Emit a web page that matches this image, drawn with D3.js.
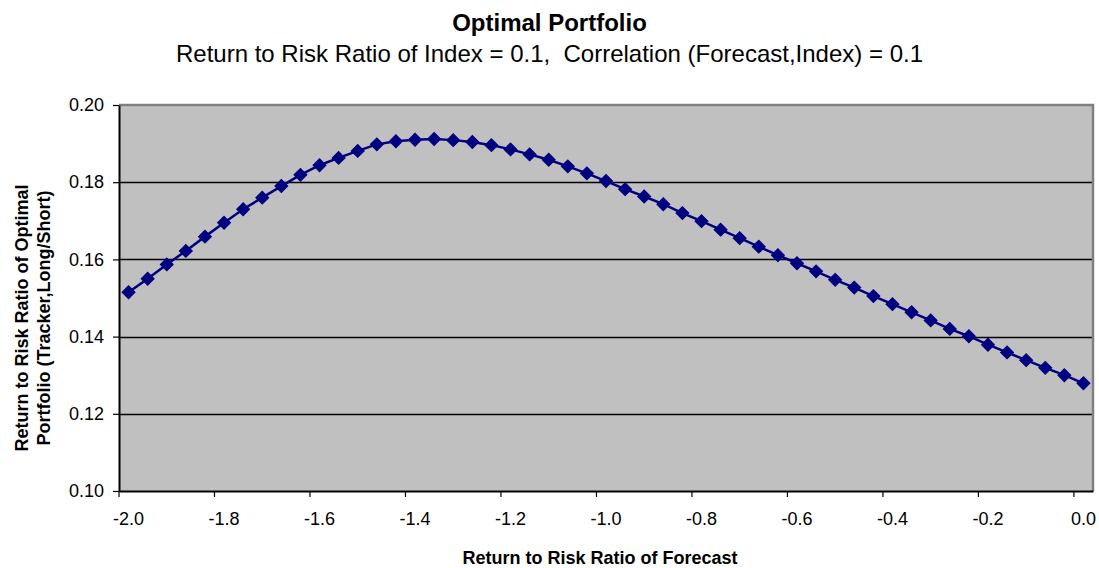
<!DOCTYPE html>
<html>
<head>
<meta charset="utf-8">
<script src="https://cdn.jsdelivr.net/npm/d3@7"></script>
<style>
  html, body { margin: 0; padding: 0; background: #fff; }
  svg { display: block; font-family: "Liberation Sans", Arial, sans-serif; }
</style>
</head>
<body>
<svg id="chart" width="1099" height="568"></svg>
<script>
// Return-to-risk ratio of the forecast (category axis)
const categories = [
  -2.00, -1.96, -1.92, -1.88, -1.84, -1.80, -1.76, -1.72, -1.68, -1.64,
  -1.60, -1.56, -1.52, -1.48, -1.44, -1.40, -1.36, -1.32, -1.28, -1.24,
  -1.20, -1.16, -1.12, -1.08, -1.04, -1.00, -0.96, -0.92, -0.88, -0.84,
  -0.80, -0.76, -0.72, -0.68, -0.64, -0.60, -0.56, -0.52, -0.48, -0.44,
  -0.40, -0.36, -0.32, -0.28, -0.24, -0.20, -0.16, -0.12, -0.08, -0.04,
   0.00
];

// Return-to-risk ratio of the optimal (tracker, long/short) portfolio
const ratios = [
  0.1515, 0.1550, 0.1587, 0.1622, 0.1659, 0.1695, 0.1730, 0.1760, 0.1790, 0.1819,
  0.1844, 0.1863, 0.1881, 0.1898, 0.1906, 0.1910, 0.1912, 0.1909, 0.1904, 0.1896,
  0.1885, 0.1872, 0.1858, 0.1841, 0.1823, 0.1803, 0.1782, 0.1763, 0.1743, 0.1720,
  0.1699, 0.1677, 0.1655, 0.1633, 0.1611, 0.1590, 0.1569, 0.1547, 0.1527, 0.1505,
  0.1484, 0.1463, 0.1442, 0.1420, 0.1401, 0.1379, 0.1359, 0.1339, 0.1319, 0.1300,
  0.1279
];

// Category-axis labels, one for every fifth category
const xTickLabels = ["-2.0", "-1.8", "-1.6", "-1.4", "-1.2", "-1.0", "-0.8", "-0.6", "-0.4", "-0.2", "0.0"];
const yTickValues = [0.10, 0.12, 0.14, 0.16, 0.18, 0.20];

const titleText = "Optimal Portfolio";
const subtitleText = "Return to Risk Ratio of Index = 0.1,  Correlation (Forecast,Index) = 0.1";
const xTitle = "Return to Risk Ratio of Forecast";
const yTitleLines = ["Return to Risk Ratio of Optimal", "Portfolio (Tracker,Long/Short)"];

const W = 1099, H = 568;
const plot = { left: 119, right: 1093, top: 105, bottom: 491 };
const navy = "#000080";

const svg = d3.select("#chart");

const x = d3.scaleBand()
  .domain(d3.range(categories.length))
  .range([plot.left, plot.right])
  .padding(0);
const y = d3.scaleLinear().domain([0.10, 0.20]).range([plot.bottom, plot.top]);
const cx = i => x(i) + x.bandwidth() / 2;

// Plot area background
svg.append("rect")
  .attr("x", plot.left).attr("y", plot.top)
  .attr("width", plot.right - plot.left).attr("height", plot.bottom - plot.top)
  .attr("fill", "#c0c0c0");

// Horizontal gridlines
svg.append("g")
  .selectAll("line")
  .data(yTickValues.filter(v => v > 0.10 && v < 0.20))
  .join("line")
  .attr("x1", plot.left).attr("x2", plot.right)
  .attr("y1", d => Math.round(y(d)) + 0.5).attr("y2", d => Math.round(y(d)) + 0.5)
  .attr("stroke", "#000").attr("stroke-width", 1.3);

// Plot-area frame (top and right edges)
svg.append("path")
  .attr("d", `M${plot.left},${plot.top} H${plot.right} V${plot.bottom}`)
  .attr("fill", "none").attr("stroke", "#808080").attr("stroke-width", 2.5);

// Y axis
const yAxis = svg.append("g")
  .attr("transform", `translate(${plot.left},0)`)
  .call(d3.axisLeft(y).tickValues(yTickValues).tickFormat(d3.format(".2f"))
    .tickSizeInner(6).tickSizeOuter(0).tickPadding(9));
yAxis.select(".domain").attr("stroke", "#000").attr("stroke-width", 2);
yAxis.selectAll(".tick line").attr("stroke", "#000").attr("stroke-width", 1.2);
yAxis.selectAll(".tick text").attr("font-size", 18).attr("fill", "#000")
  .attr("font-family", "Liberation Sans, Arial, sans-serif");

// X axis: labels centred on categories, tick marks on category boundaries
const labelIdx = xTickLabels.map((_, k) => k * 5);
const xAxis = svg.append("g")
  .attr("transform", `translate(0,${plot.bottom})`)
  .call(d3.axisBottom(x).tickValues(labelIdx).tickFormat((d, k) => xTickLabels[k])
    .tickSizeInner(0).tickSizeOuter(0).tickPadding(21));
xAxis.select(".domain").attr("stroke", "#000").attr("stroke-width", 2);
xAxis.selectAll(".tick text").attr("font-size", 18).attr("fill", "#000")
  .attr("font-family", "Liberation Sans, Arial, sans-serif");
svg.append("g")
  .selectAll("line")
  .data(labelIdx)
  .join("line")
  .attr("x1", d => x(d)).attr("x2", d => x(d))
  .attr("y1", plot.bottom).attr("y2", plot.bottom + 6)
  .attr("stroke", "#000").attr("stroke-width", 1.2);

// Series line
svg.append("path")
  .datum(ratios)
  .attr("fill", "none")
  .attr("stroke", navy)
  .attr("stroke-width", 2.5)
  .attr("d", d3.line().x((d, i) => cx(i)).y(d => y(d)));

// Diamond markers
const diamond = d3.symbol().type(d3.symbolSquare).size(84);
svg.append("g")
  .selectAll("path")
  .data(ratios)
  .join("path")
  .attr("d", diamond)
  .attr("transform", (d, i) => `translate(${cx(i)},${y(d)}) rotate(45)`)
  .attr("fill", navy)
  .attr("stroke", navy)
  .attr("stroke-width", 1);

// Titles
svg.append("text")
  .attr("x", W / 2).attr("y", 31)
  .attr("text-anchor", "middle")
  .attr("font-size", 24).attr("font-weight", "bold")
  .text(titleText);
svg.append("text")
  .attr("x", W / 2).attr("y", 61.5)
  .attr("text-anchor", "middle")
  .attr("font-size", 24)
  .style("white-space", "pre")
  .attr("xml:space", "preserve")
  .text(subtitleText);

svg.append("text")
  .attr("x", (plot.left + plot.right) / 2 - 6).attr("y", 564)
  .attr("text-anchor", "middle")
  .attr("font-size", 18).attr("font-weight", "bold")
  .text(xTitle);

const yTitle = svg.append("text")
  .attr("transform", "translate(28,318) rotate(-90)")
  .attr("text-anchor", "middle")
  .attr("font-size", 18).attr("font-weight", "bold");
yTitle.selectAll("tspan")
  .data(yTitleLines)
  .join("tspan")
  .attr("x", 0)
  .attr("dy", (d, i) => i === 0 ? 0 : 21.6)
  .text(d => d);
</script>
</body>
</html>
